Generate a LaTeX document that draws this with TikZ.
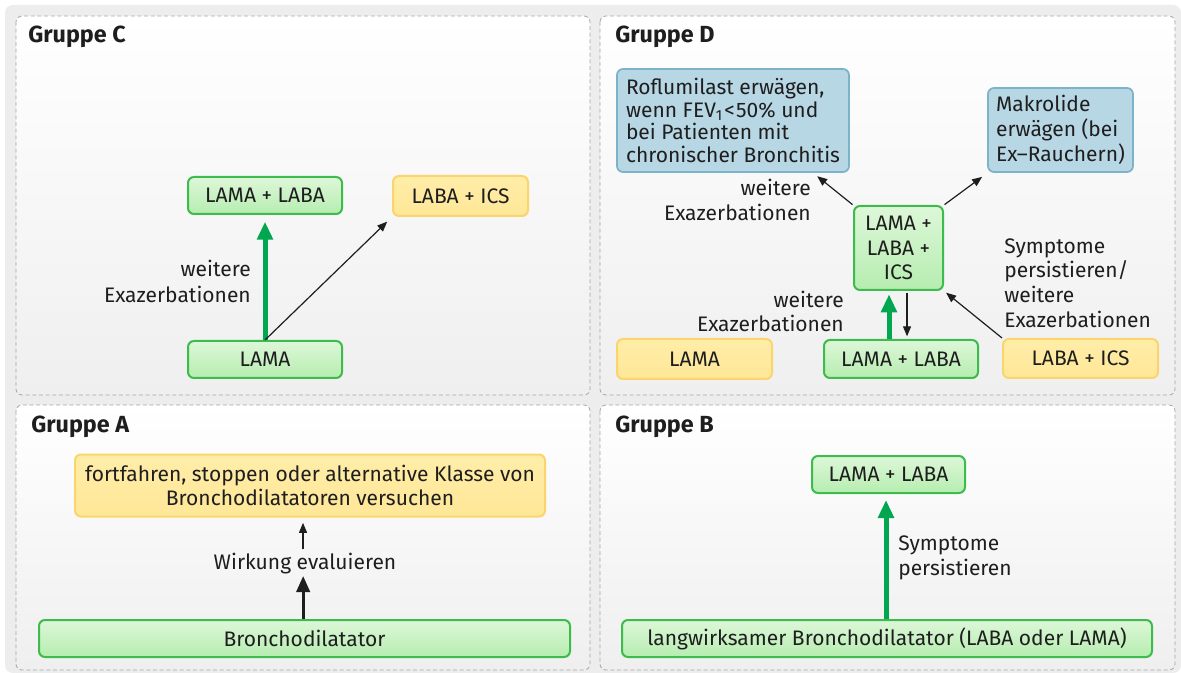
\documentclass[tikz,border=0pt]{standalone}
\usepackage{fontspec}
\setmainfont{Fira Sans}
\usetikzlibrary{arrows.meta,calc}

\definecolor{ink}{HTML}{1E1E1E}
\definecolor{outerbg}{HTML}{EDEDED}
\definecolor{panelline}{HTML}{A6A6A6}
\definecolor{panelbot}{HTML}{EFEFEF}
\definecolor{greenline}{HTML}{3DBB4C}
\definecolor{greentop}{HTML}{DDF7D8}
\definecolor{greenbot}{HTML}{B6EDB0}
\definecolor{yellowline}{HTML}{FAD56E}
\definecolor{yellowtop}{HTML}{FFEDA8}
\definecolor{yellowbot}{HTML}{FFE797}
\definecolor{blueline}{HTML}{7DB3C9}
\definecolor{bluefill}{HTML}{B8D7E5}
\definecolor{arrowgreen}{HTML}{00A650}

\tikzset{
  every node/.style={font=\fontsize{15.75}{18.5}\selectfont, text=ink},
  panel/.style={draw=panelline, dash pattern=on 3pt off 2pt, line width=0.6pt,
    rounded corners=4.5pt, top color=white, bottom color=panelbot},
  title/.style={font=\fontsize{17.5}{20}\bfseries\selectfont, anchor=base west, inner sep=0pt},
  boxbase/.style={rounded corners=4.5pt, line width=1.5pt, inner sep=2pt},
  gbox/.style={boxbase, draw=greenline, top color=greentop, bottom color=greenbot},
  ybox/.style={boxbase, draw=yellowline, top color=yellowtop, bottom color=yellowbot},
  bbox/.style={boxbase, draw=blueline, fill=bluefill, line width=1.3pt},
  lbl/.style={inner sep=0pt},
  thinarrow/.style={draw=ink, line width=0.9pt, -{Triangle[length=7.5pt,width=6pt]}},
  thickgreen/.style={draw=arrowgreen, line width=3.75pt, -{Triangle[length=13.5pt,width=11.5pt]}},
  thickblack/.style={draw=ink, line width=2.25pt, -{Triangle[length=12pt,width=10pt]}},
}

\begin{document}
\begin{tikzpicture}[x=0.75pt,y=-0.75pt]
\useasboundingbox (0,0) rectangle (1181,673);
\fill[white] (0,0) rectangle (1181,673);
\fill[outerbg, rounded corners=6pt] (5,5) rectangle (1181,673);

% four group panels
\path[panel] (16,16) rectangle (590,395);
\path[panel] (600,16) rectangle (1175,395);
\path[panel] (16,405) rectangle (590,670);
\path[panel] (600,405) rectangle (1175,670);

\node[title] (tC) at (28,43) {Gruppe C};
\node[title] (tD) at (615,43) {Gruppe D};
\node[title] (tA) at (31,432) {Gruppe A};
\node[title] (tB) at (615,432) {Gruppe B};

% ---- Gruppe C ----
\node[gbox, minimum width=115.5pt, minimum height=27.75pt] (c_ll) at (265,195.5) {LAMA + LABA};
\node[ybox, minimum width=101.25pt, minimum height=30pt] (c_li) at (460.5,196) {LABA + ICS};
\node[gbox, minimum width=115.5pt, minimum height=27.75pt] (c_l) at (265,359.5) {LAMA};
\node[lbl, anchor=east, align=right, font=\fontsize{15.75}{19.5}\selectfont] (c_lab) at (251,281) {weitere\\Exazerbationen};

\draw[thickgreen, shorten >=5pt] (c_l.north) -- (c_ll.south);
\draw[thinarrow, shorten >=5pt] (c_l.north) -- (c_li.south west);

% ---- Gruppe D ----
\node[bbox, align=left, minimum width=174pt, minimum height=77.25pt,
      font=\fontsize{15.75}{17}\selectfont] (d_rof) at (733,120.5)
  {Roflumilast erwägen,\\wenn FEV\textsubscript{1}\kern1pt<\kern1pt50\% und\\bei Patienten mit\\chronischer Bronchitis};
\node[bbox, align=left, minimum width=108.75pt, minimum height=63pt] (d_mak) at (1060.5,130)
  {Makrolide\\erwägen (bei\\Ex--Rauchern)};
\node[gbox, align=center, minimum width=66.75pt, minimum height=63pt] (d_tri) at (898.5,248)
  {LAMA +\\LABA +\\ICS};
\node[ybox, minimum width=116.25pt, minimum height=30pt] (d_lama) at (694.5,359) {LAMA};
\node[gbox, minimum width=115.5pt, minimum height=28.5pt] (d_ll) at (901,359) {LAMA + LABA};
\node[ybox, minimum width=116.25pt, minimum height=29.25pt] (d_li) at (1080.5,358.5) {LABA + ICS};

\node[lbl, anchor=east, align=right] (d_lab1) at (811,200) {weitere\\Exazerbationen};
\node[lbl, anchor=east, align=right] (d_lab2) at (844,311.5) {weitere\\Exazerbationen};
\node[lbl, anchor=west, align=left] (d_lab3) at (1004,283)
  {Symptome\\persistieren/\\weitere\\Exazerbationen};

\draw[thinarrow, shorten <=0.5pt] (d_tri.north west) -- ([xshift=-24.5pt,yshift=-2.5pt]d_rof.south east);
\draw[thinarrow, shorten <=0.5pt] (d_tri.north east) -- ([xshift=-3.75pt,yshift=-3pt]d_mak.south west);
\draw[thinarrow, shorten >=2pt] (d_li.north west) -- (d_tri.south east);
\draw[thinarrow, shorten <=1.5pt, shorten >=2pt]
  ([xshift=6.4pt]d_tri.south) -- ([xshift=6.4pt]d_tri.south |- d_ll.north);
\draw[thickgreen, shorten >=2.5pt]
  ([xshift=-9pt]d_ll.north) -- ([xshift=-9pt]d_ll.north |- d_tri.south);

% ---- Gruppe A ----
\node[ybox, align=center, minimum width=352.5pt, minimum height=46.5pt] (a_top) at (310,485.5)
  {fortfahren, stoppen oder alternative Klasse von\\Bronchodilatatoren versuchen};
\node[lbl] (a_lab) at (305,564) {Wirkung evaluieren};
\node[gbox, minimum width=398.25pt, minimum height=27.75pt] (a_bd) at (304.5,638.5) {Bronchodilatator};

\draw[thinarrow, shorten <=3pt, shorten >=4pt] ([xshift=-1.5pt]a_lab.north) -- ([xshift=-1.5pt]a_lab.north |- a_top.south);
\draw[thickblack, shorten >=1pt] ([xshift=-1pt]a_bd.north) -- ([xshift=-1pt]a_bd.north |- a_lab.south);

% ---- Gruppe B ----
\node[gbox, minimum width=114.75pt, minimum height=27.75pt] (b_ll) at (888.5,474.5) {LAMA + LABA};
\node[gbox, minimum width=397.5pt, minimum height=27.75pt] (b_lb) at (887,638.5)
  {langwirksamer Bronchodilatator (LABA oder LAMA)};
\node[lbl, anchor=west, align=left] (b_lab) at (898,558) {Symptome\\persistieren};

\draw[thickgreen, shorten >=4.5pt] ([xshift=-0.75pt]b_lb.north) -- ([xshift=-0.75pt]b_lb.north |- b_ll.south);
\end{tikzpicture}
\end{document}
